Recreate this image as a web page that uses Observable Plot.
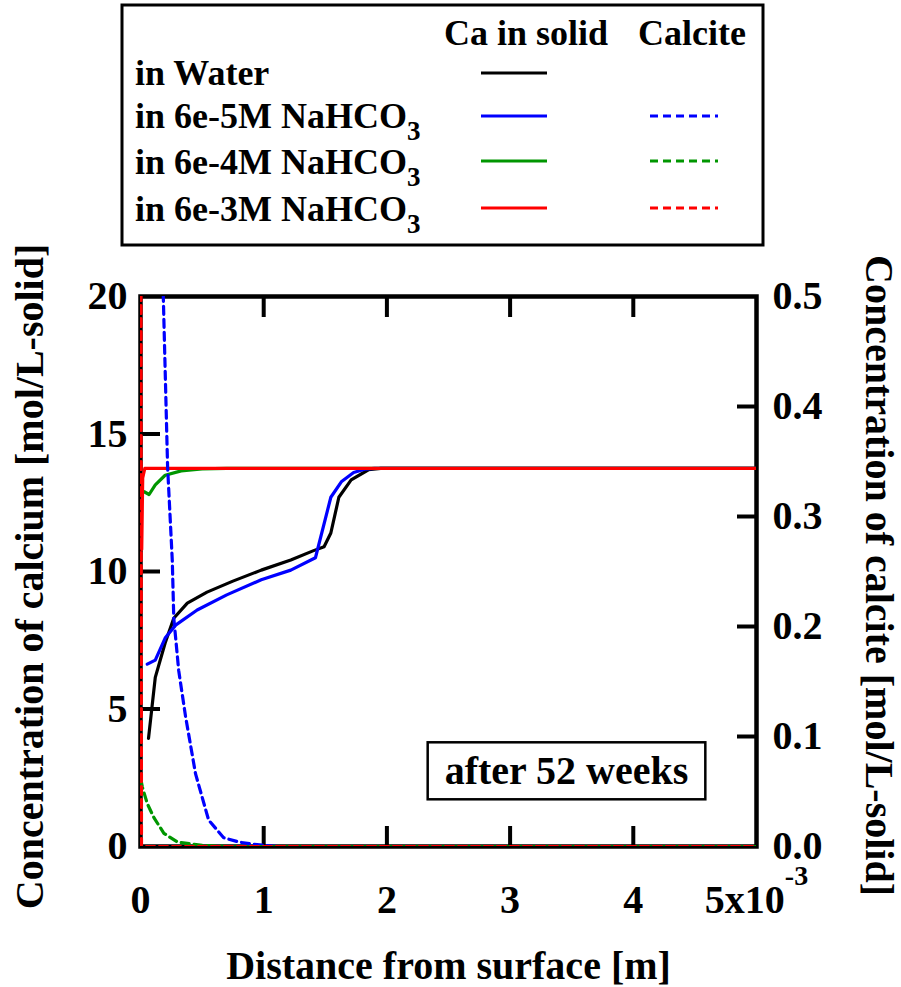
<!DOCTYPE html>
<html><head><meta charset="utf-8">
<script src="https://cdn.jsdelivr.net/npm/d3@7"></script>
<script src="https://cdn.jsdelivr.net/npm/@observablehq/plot@0.6"></script>
<style>
body{margin:0;background:#fff}
#chart{position:relative;width:901px;height:987px}
#chart svg{display:block}
</style>
</head><body><div id="chart"></div>
<script>
const FONT = '"Liberation Serif", "Times New Roman", Times, serif';

// ---- series meta ----
const seriesNames = ["in Water", "in 6e-5M NaHCO", "in 6e-4M NaHCO", "in 6e-3M NaHCO"];
const seriesSub = ["", "3", "3", "3"];
const seriesColors = ["#000000", "#0000ff", "#009600", "#ff0000"];
const hasCalcite = [false, true, true, true];
const legendHeaders = ["Ca in solid", "Calcite"];
const annotationText = "after 52 weeks";

// ---- Ca in solid [mol/L-solid] vs distance [1e-3 m] ----
const waterX  = [0.065, 0.12, 0.2, 0.27, 0.38, 0.54, 0.75, 0.98, 1.22, 1.4, 1.49, 1.545, 1.61, 1.71, 1.85, 1.95, 2.2, 3, 4, 5];
const waterCa = [3.93, 6.15, 7.4, 8.3, 8.85, 9.25, 9.65, 10.05, 10.42, 10.75, 10.9, 11.4, 12.7, 13.33, 13.7, 13.75, 13.75, 13.75, 13.75, 13.75];

const nah5X  = [0.055, 0.12, 0.2, 0.285, 0.46, 0.7, 0.98, 1.22, 1.42, 1.545, 1.63, 1.73, 1.82, 1.9, 2.2, 3, 4, 5];
const nah5Ca = [6.63, 6.78, 7.58, 8.05, 8.6, 9.15, 9.7, 10.05, 10.5, 12.7, 13.26, 13.6, 13.72, 13.75, 13.75, 13.75, 13.75, 13.75];

const nah4X  = [0.0, 0.03, 0.07, 0.12, 0.2, 0.33, 0.5, 0.7, 1, 2, 3, 4, 5];
const nah4Ca = [12.95, 12.9, 12.8, 13.15, 13.5, 13.66, 13.73, 13.75, 13.75, 13.75, 13.75, 13.75, 13.75];

const nah3X  = [0.01, 0.018, 0.035, 1, 2, 3, 4, 5];
const nah3Ca = [10.8, 13.4, 13.75, 13.75, 13.75, 13.75, 13.75, 13.75];

// ---- Calcite [mol/L-solid] (right axis) ----
const nah5CalX = [0.05, 0.1, 0.15, 0.185, 0.22, 0.258, 0.27, 0.31, 0.366, 0.447, 0.553, 0.675, 0.8, 0.92, 1.1, 2, 3, 4, 5];
const nah5Cal  = [1.2, 0.85, 0.62, 0.5, 0.345, 0.26, 0.208, 0.16, 0.118, 0.066, 0.024, 0.008, 0.004, 0.002, 0, 0, 0, 0, 0];

const nah4CalX = [0.005, 0.015, 0.055, 0.11, 0.19, 0.3, 0.5, 0.7, 1, 2, 3, 4, 5];
const nah4Cal  = [0.06, 0.054, 0.039, 0.026, 0.012, 0.004, 0.001, 0, 0, 0, 0, 0, 0];

const nah3CalX = [0, 0.008, 1, 2, 3, 4, 5];
const nah3Cal  = [1.0, 0, 0, 0, 0, 0, 0];

// ---- ticks ----
const xTickLabels = [0, 1, 2, 3, 4, 5];
const xInnerTicks = [1, 2, 3, 4];
const yLeftTicks = [0, 5, 10, 15, 20];
const yLeftInner = [5, 10, 15];
const yRightTicks = [0, 0.1, 0.2, 0.3, 0.4, 0.5];
const yRightInner = [0.1, 0.2, 0.3, 0.4];
const calciteFactor = 20 / 0.5; // right axis 0..0.5 maps onto left 0..20

const zip = (xs, ys) => xs.map((x, i) => ({x, y: ys[i]}));
const caSets = [zip(waterX, waterCa), zip(nah5X, nah5Ca), zip(nah4X, nah4Ca), zip(nah3X, nah3Ca)];
const calSets = [null, zip(nah5CalX, nah5Cal), zip(nah4CalX, nah4Cal), zip(nah3CalX, nah3Cal)];

const DASH = "8,5";
const lineMarks = [];
caSets.forEach((d, i) => lineMarks.push(Plot.line(d, {x: "x", y: "y", stroke: seriesColors[i], strokeWidth: 3.2, clip: true})));
calSets.forEach((d, i) => { if (d) lineMarks.push(Plot.line(d, {x: "x", y: d2 => d2.y * calciteFactor, stroke: seriesColors[i], strokeWidth: 3.2, strokeDasharray: DASH, clip: true})); });

const tickOpts = {tickSize: -20, strokeWidth: 4, tickFormat: () => "", label: null};

const plot = Plot.plot({
  width: 901, height: 987,
  marginLeft: 140, marginRight: 145, marginTop: 296, marginBottom: 141,
  x: {domain: [0, 5]},
  y: {domain: [0, 20]},
  style: {fontFamily: FONT, fontWeight: "bold", fontSize: "40px", color: "#000", background: "#fff", overflow: "visible"},
  marks: [
    Plot.frame({stroke: "#000", strokeWidth: 4.5}),
    Plot.axisX({anchor: "bottom", ticks: xInnerTicks, ...tickOpts}),
    Plot.axisX({anchor: "top", ticks: xInnerTicks, ...tickOpts}),
    Plot.axisY({anchor: "left", ticks: yLeftInner, ...tickOpts}),
    Plot.axisY({anchor: "right", ticks: yRightInner.map(v => v * calciteFactor), ...tickOpts}),
    Plot.axisX({anchor: "bottom", ticks: xTickLabels, tickSize: 0, tickPadding: 38, fontSize: 40, label: null,
      tickFormat: d => d === 5 ? "5x10" : String(d)}),
    Plot.axisY({anchor: "left", ticks: yLeftTicks, tickSize: 0, tickPadding: 13, fontSize: 40, label: null}),
    Plot.axisY({anchor: "right", ticks: yRightTicks.map(v => v * calciteFactor), tickSize: 0, tickPadding: 16, fontSize: 40, label: null,
      tickFormat: d => (d / calciteFactor).toFixed(1)}),
    ...lineMarks,
    Plot.text(["Distance from surface [m]"], {text: d => d, frameAnchor: "bottom", textAnchor: "middle", lineAnchor: "middle", dy: 120, fontSize: 40, fill: "#000"}),
    Plot.text(["Concentration of calcium [mol/L-solid]"], {text: d => d, frameAnchor: "left", textAnchor: "middle", lineAnchor: "middle", dx: -110, dy: 5, rotate: -90, fontSize: 40, fill: "#000"}),
    Plot.text(["Concentration of calcite [mol/L-solid]"], {text: d => d, frameAnchor: "right", textAnchor: "middle", lineAnchor: "middle", dx: 122, dy: 4, rotate: 90, fontSize: 40, fill: "#000"}),
    Plot.text([annotationText], {text: d => d, frameAnchor: "bottom", textAnchor: "middle", lineAnchor: "middle", dx: 118, dy: -75, fontSize: 40, fill: "#000"})
  ]
});

document.getElementById("chart").appendChild(plot);
const svg = d3.select(plot);

// superscript for the last x tick
svg.selectAll("text").each(function() {
  if (this.textContent === "5x10") {
    d3.select(this).append("tspan").attr("dy", -28).attr("font-size", 28).text("-3");
  }
});

// box around annotation
const svgRect = plot.getBoundingClientRect();
svg.selectAll("text").each(function() {
  if (this.textContent === annotationText) {
    const r = this.getBoundingClientRect();
    const g = this.closest("g") || this;
    const rect = document.createElementNS("http://www.w3.org/2000/svg", "rect");
    const padX = 17, padY = 6;
    rect.setAttribute("x", r.left - svgRect.left - padX);
    rect.setAttribute("y", r.top - svgRect.top - padY);
    rect.setAttribute("width", r.width + 2 * padX);
    rect.setAttribute("height", r.height + 2 * padY);
    rect.setAttribute("fill", "#fff");
    rect.setAttribute("stroke", "#000");
    rect.setAttribute("stroke-width", 2.5);
    g.parentNode.insertBefore(rect, g);
  }
});

// legend
const L = {x: 122, y: 5, w: 641, h: 240, textX: 135, headY: 45, headX: [526, 692],
  rowLineY: [73, 116, 161, 208], rowBase: [85, 128, 174, 221], solid: [481, 547], dashed: [650, 718]};
const lg = svg.append("g").attr("font-family", FONT).attr("font-weight", "bold").attr("font-size", 36).attr("fill", "#000");
lg.append("rect").attr("x", L.x).attr("y", L.y).attr("width", L.w).attr("height", L.h)
  .attr("fill", "#fff").attr("stroke", "#000").attr("stroke-width", 3);
legendHeaders.forEach((h, i) => lg.append("text").attr("x", L.headX[i]).attr("y", L.headY).attr("text-anchor", "middle").text(h));
seriesNames.forEach((name, i) => {
  const t = lg.append("text").attr("x", L.textX).attr("y", L.rowBase[i]).attr("text-anchor", "start").text(name);
  if (seriesSub[i]) t.append("tspan").attr("dy", 12).attr("font-size", 27).text(seriesSub[i]);
  lg.append("line").attr("x1", L.solid[0]).attr("x2", L.solid[1]).attr("y1", L.rowLineY[i]).attr("y2", L.rowLineY[i])
    .attr("stroke", seriesColors[i]).attr("stroke-width", 3);
  if (hasCalcite[i]) lg.append("line").attr("x1", L.dashed[0]).attr("x2", L.dashed[1]).attr("y1", L.rowLineY[i]).attr("y2", L.rowLineY[i])
    .attr("stroke", seriesColors[i]).attr("stroke-width", 3).attr("stroke-dasharray", DASH);
});
</script>
</body></html>
